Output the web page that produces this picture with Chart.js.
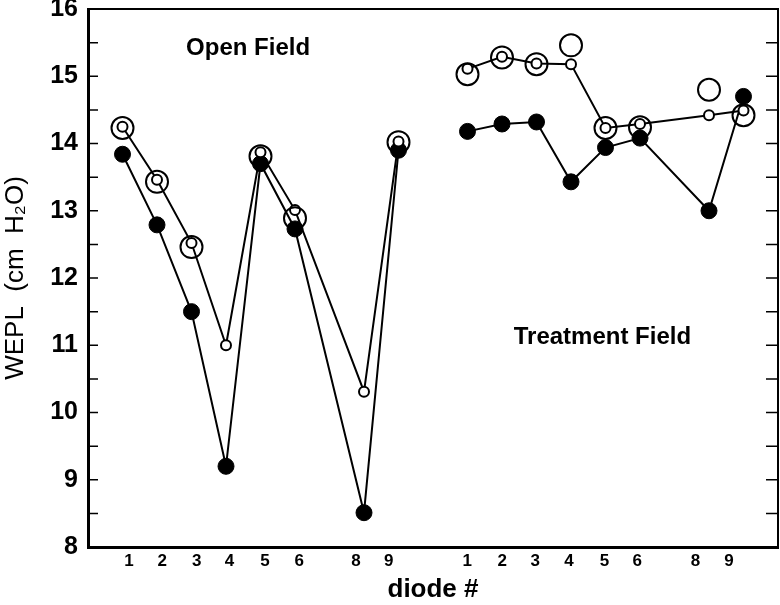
<!DOCTYPE html>
<html>
<head>
<meta charset="utf-8">
<script src="https://cdn.jsdelivr.net/npm/chart.js@4"></script>
<style>
    body { margin: 0; background: #fff; }
</style>
</head>
<body>
<canvas id="graficoWepl" width="780" height="605"></canvas>
<script>
// Diodos e deslocamento do segundo grupo (Treatment Field) no eixo x
const diodos = [1, 2, 3, 4, 5, 6, 8, 9];
const deslocTratamento = 10;

// Open Field
const abertoCheio = [13.84, 12.79, 11.50, 9.20, 13.70, 12.73, 8.51, 13.90];
const abertoPequeno = [14.25, 13.46, 12.52, 11.00, 13.87, 13.01, 10.31, 14.03];
const abertoGrande = [14.23, 13.43, 12.46, null, 13.81, 12.89, null, 14.02];

// Treatment Field
const tratCheio = [14.18, 14.29, 14.32, 13.43, 13.94, 14.08, 13.00, 14.70];
const tratPequeno = [15.11, 15.29, 15.19, 15.18, 14.23, 14.29, 14.42, 14.49];
const tratGrande = [15.03, 15.28, 15.18, 15.46, 14.23, 14.24, 14.80, 14.42];

// Rótulos do eixo x (valores no eixo) e textos dentro do gráfico
const tickValores = [1.19, 2.15, 3.15, 4.10, 5.13, 6.12, 7.77, 8.72, 10.99, 12.01, 12.96, 13.94, 14.97, 15.92, 17.61, 18.58];
const tickRotulos = ["1", "2", "3", "4", "5", "6", "8", "9", "1", "2", "3", "4", "5", "6", "8", "9"];
const anotacoes = [
    { texto: "Open Field", x: 4.64, y: 15.42 },
    { texto: "Treatment Field", x: 14.91, y: 11.12 },
];

const fonte = "'Liberation Sans', Arial, sans-serif";
const xAberto = diodos;
const xTrat = diodos.map((d) => d + deslocTratamento);

function pontos(xs, ys) {
    return xs.map((x, i) => ({ x: x, y: ys[i] }));
}

function serieCheia(dados) {
    return {
        data: dados,
        showLine: true,
        borderColor: "#000",
        borderWidth: 2,
        pointRadius: 8,
        pointBackgroundColor: "#000",
        pointBorderColor: "#000",
        pointBorderWidth: 1,
        order: 3,
    };
}

function seriePequena(dados) {
    return {
        data: dados,
        showLine: true,
        borderColor: "#000",
        borderWidth: 2,
        pointRadius: 5,
        pointBackgroundColor: "#fff",
        pointBorderColor: "#000",
        pointBorderWidth: 2,
        order: 2,
    };
}

function serieGrande(dados) {
    return {
        data: dados,
        showLine: false,
        pointRadius: 11,
        pointBackgroundColor: "rgba(0,0,0,0)",
        pointBorderColor: "#000",
        pointBorderWidth: 2,
        order: 1,
    };
}

// Marcas internas do eixo y (esquerda e direita), moldura e textos
const moldura = {
    id: "moldura",
    afterDraw(chart) {
        const ctx = chart.ctx;
        const area = chart.chartArea;
        const y = chart.scales.y;
        const x = chart.scales.x;
        ctx.save();
        ctx.strokeStyle = "#000";
        ctx.lineWidth = 1.5;
        y.ticks.forEach((t) => {
            const py = y.getPixelForValue(t.value);
            ctx.beginPath();
            ctx.moveTo(area.left, py);
            ctx.lineTo(area.left + 10, py);
            ctx.moveTo(area.right - 12, py);
            ctx.lineTo(area.right, py);
            ctx.stroke();
        });
        ctx.lineWidth = 2;
        ctx.beginPath();
        ctx.moveTo(area.left, area.top);
        ctx.lineTo(area.right, area.top);
        ctx.lineTo(area.right, area.bottom);
        ctx.stroke();

        ctx.fillStyle = "#000";
        ctx.font = "bold 24px " + fonte;
        ctx.textAlign = "center";
        ctx.textBaseline = "middle";
        anotacoes.forEach((a) => {
            ctx.fillText(a.texto, x.getPixelForValue(a.x), y.getPixelForValue(a.y));
        });
        ctx.restore();
    },
};

new Chart(document.getElementById("graficoWepl").getContext("2d"), {
    type: "scatter",
    data: {
        datasets: [
            serieGrande(pontos(xAberto, abertoGrande)),
            serieGrande(pontos(xTrat, tratGrande)),
            seriePequena(pontos(xAberto, abertoPequeno)),
            seriePequena(pontos(xTrat, tratPequeno)),
            serieCheia(pontos(xAberto, abertoCheio)),
            serieCheia(pontos(xTrat, tratCheio)),
        ],
    },
    options: {
        responsive: false,
        animation: false,
        layout: {
            autoPadding: false,
            padding: { top: 9, right: 2, left: 0, bottom: 0 },
        },
        plugins: {
            legend: { display: false },
            tooltip: { enabled: false },
        },
        scales: {
            x: {
                type: "linear",
                min: 0,
                max: 20,
                afterBuildTicks: (s) => {
                    s.ticks = tickValores.map((v) => ({ value: v }));
                },
                afterFit: (s) => {
                    s.height = 58;
                    s.paddingLeft = 0;
                    s.paddingRight = 0;
                },
                ticks: {
                    autoSkip: false,
                    maxRotation: 0,
                    padding: 4,
                    color: "#000",
                    font: { family: fonte, size: 17, weight: "bold" },
                    callback: (v, i) => tickRotulos[i],
                },
                grid: { display: true, drawOnChartArea: false, drawTicks: false },
                border: { display: true, color: "#000", width: 3 },
                title: {
                    display: true,
                    text: "diode #",
                    color: "#000",
                    padding: { top: 0, bottom: 0 },
                    font: { family: fonte, size: 26, weight: "bold" },
                },
            },
            y: {
                min: 8,
                max: 16,
                afterFit: (s) => {
                    s.width = 88;
                    s.paddingTop = 0;
                    s.paddingBottom = 0;
                },
                ticks: {
                    stepSize: 0.5,
                    padding: 10,
                    color: "#000",
                    font: { family: fonte, size: 25, weight: "bold" },
                    callback: (v) => (Number.isInteger(v) ? v : ""),
                },
                grid: { display: true, drawOnChartArea: false, drawTicks: false },
                border: { display: true, color: "#000", width: 3 },
                title: {
                    display: true,
                    text: "WEPL  (cm  H\u2082O)",
                    color: "#000",
                    padding: { top: 0, bottom: 0 },
                    font: { family: fonte, size: 26 },
                },
            },
        },
    },
    plugins: [moldura],
});
</script>
</body>
</html>
